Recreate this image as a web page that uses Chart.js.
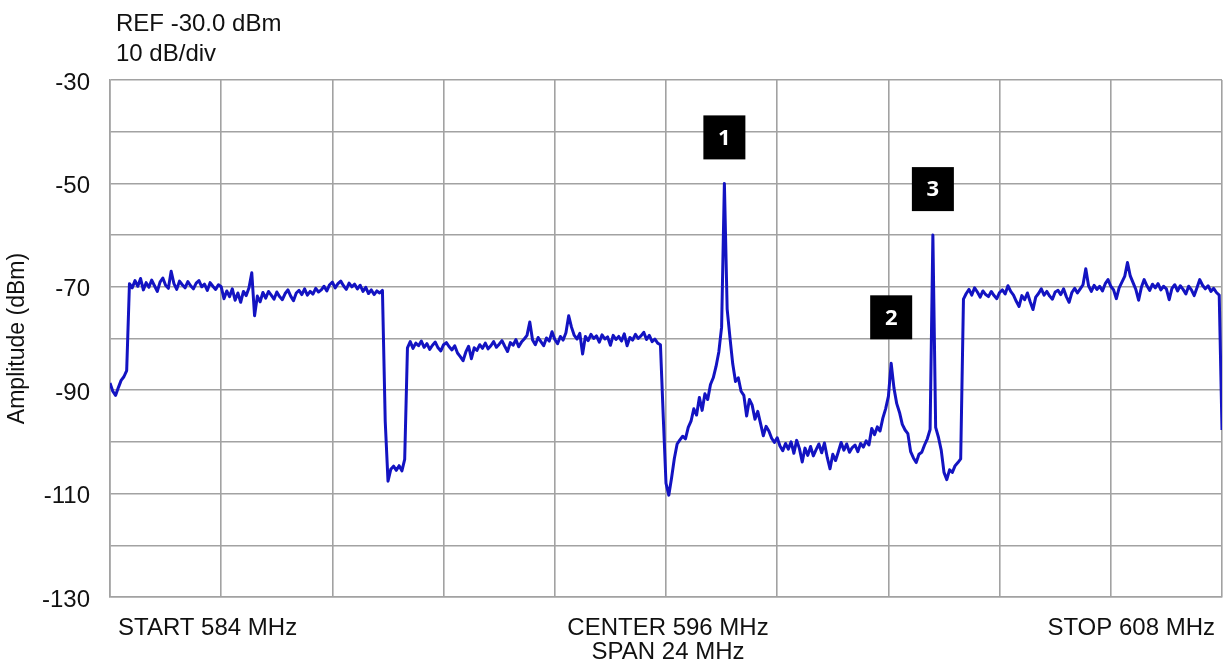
<!DOCTYPE html>
<html lang="en">
<head>
    <meta charset="UTF-8">
    <title>Spectrum 584 - 608 MHz</title>
    <script src="https://cdn.jsdelivr.net/npm/chart.js"></script>
    <style>
        html, body {
            margin: 0;
            padding: 0;
            background: #fff;
        }
        #wrap {
            width: 1225px;
            height: 669px;
            position: relative;
        }
    </style>
</head>
<body>
    <div id="wrap">
        <canvas id="spectrum"></canvas>
    </div>

    <script>
        // analyzer settings
        const START_MHZ = 584;
        const STOP_MHZ = 608;
        const REF_DBM = -30;
        const DB_PER_DIV = 10;
        const yTickLabels = [-30, -50, -70, -90, -110, -130];

        // trace, one value per sweep point (dBm)
        const amplitude = [
            -88.6, -90.2, -91.0, -89.5, -88.1, -87.4, -86.2, -69.4, -70.2, -68.8,
            -69.9, -68.4, -70.6, -69.2, -70.1, -68.7, -69.8, -70.9, -69.1, -68.3,
            -69.7, -70.3, -67.0, -69.4, -70.5, -68.9, -69.6, -70.2, -69.0, -69.8,
            -70.4, -69.3, -68.8, -70.0, -69.5, -70.7, -69.2, -69.9, -70.5, -69.6,
            -70.0, -72.3, -70.8, -71.9, -70.4, -72.6, -71.2, -73.0, -70.9, -71.7,
            -70.2, -67.3, -75.6, -71.8, -72.9, -71.1, -72.2, -70.9, -71.6, -72.4,
            -71.0, -71.9, -72.5, -71.3, -70.6, -71.8, -72.7, -71.2, -70.7, -71.5,
            -70.4, -71.6, -70.9, -71.4, -70.3, -71.0, -70.6, -69.9, -70.8, -69.6,
            -69.1, -70.2, -69.4, -68.9, -69.8, -70.5, -69.3, -70.0, -69.5, -70.4,
            -69.7, -70.9, -70.1, -71.3, -70.6, -71.5, -70.8, -71.2, -70.7, -96.0,
            -107.6, -105.3, -104.7, -105.5, -104.6, -105.6, -103.4, -81.8, -80.6, -81.9,
            -80.9, -81.4, -80.5, -81.7, -81.0, -82.1, -81.3, -80.7, -81.8, -82.4,
            -81.2, -80.8, -81.6, -82.2, -81.4, -82.8, -83.5, -84.3, -82.6, -81.5,
            -83.9, -81.8, -82.3, -81.2, -81.9, -80.9, -82.0, -81.4, -80.6, -81.7,
            -81.1, -80.4, -81.5, -82.5, -80.8, -81.3, -80.2, -81.6, -80.7, -80.1,
            -79.4, -76.8, -80.3, -81.2, -79.8, -80.6, -81.4, -79.9, -80.5, -78.7,
            -80.2, -81.0, -79.6, -80.3, -78.9, -75.6, -77.8, -79.4, -80.1, -79.0,
            -83.0, -79.6, -80.4, -79.2, -80.0, -79.5, -80.7, -79.3, -80.1, -79.7,
            -81.3, -79.4, -80.2, -79.6, -80.5, -79.1, -81.4, -79.8, -80.3, -79.2,
            -80.0, -79.5, -78.8, -80.2, -79.4, -80.6, -80.1, -80.9, -81.2, -95.0,
            -108.0, -110.3, -107.0, -103.2, -100.4, -99.6, -98.9, -99.4, -97.2, -96.0,
            -93.6, -94.8, -91.4, -93.9, -90.7, -91.8, -88.9, -87.6, -85.4, -82.6,
            -77.8, -50.0, -74.3, -79.8, -84.9, -88.3, -87.6, -90.2, -91.0, -95.0,
            -91.8, -92.9, -95.6, -94.1, -96.4, -98.8, -97.0, -97.9, -99.3, -100.1,
            -99.2, -100.8, -101.7, -100.3, -101.4, -100.0, -102.2, -99.7, -101.3, -103.9,
            -101.2, -102.6, -100.9, -102.7, -101.5, -100.4, -102.1, -100.2, -103.0, -105.2,
            -102.4, -103.6, -101.9, -100.1, -101.6, -100.4, -102.0, -101.1, -100.6, -101.9,
            -100.3, -101.0, -99.8, -100.6, -97.4, -98.6, -97.1, -97.9, -95.4, -93.6,
            -91.2, -84.8, -89.6, -92.6, -94.3, -96.6, -97.7, -98.4, -101.9, -103.1,
            -104.0, -102.4, -102.0, -100.6, -99.4, -97.6, -60.0, -97.2, -99.1, -101.6,
            -105.9, -107.3, -105.4, -105.9, -104.6, -104.0, -103.3, -72.4, -71.3, -70.5,
            -71.6, -70.2, -71.0, -72.0, -70.8, -71.5, -71.9, -70.9, -71.7, -72.3,
            -71.1, -70.6, -71.4, -69.8, -70.9, -71.6, -72.8, -73.8, -71.7, -72.5,
            -71.2, -72.9, -74.4, -72.0, -71.3, -70.4, -71.6, -70.9, -71.8, -72.4,
            -71.0, -70.7, -71.5, -70.4, -71.9, -73.0, -71.1, -70.3, -71.2, -70.4,
            -69.6, -66.5, -69.8, -70.9, -69.7, -70.5, -69.9, -70.8, -69.4, -68.6,
            -69.9, -70.6, -72.3, -70.2, -69.1, -68.0, -65.3, -67.9, -69.2, -70.5,
            -72.6, -70.1, -68.6, -69.8, -70.7, -69.5, -70.2, -69.4, -70.6, -69.9,
            -70.4, -72.5, -70.3, -69.6, -70.8, -69.8, -70.5, -71.4, -69.9, -70.6,
            -71.7, -70.2, -68.6, -69.7, -70.4, -69.8, -70.9, -70.3, -71.1, -71.6,
            -97.7
        ];

        // numbered markers sit on these sweep points
        const markerLabels = ['1', '2', '3'];
        const markerPoints = [221, 281, 296];

        // evenly spaced sweep points between start and stop
        const step = (STOP_MHZ - START_MHZ) / (amplitude.length - 1);
        const points = amplitude.map((v, i) => ({ x: START_MHZ + i * step, y: v }));

        const textFont = "'Liberation Sans', Arial, sans-serif";
        const gridColor = '#a2a2a2';

        const analyzerText = {
            id: 'analyzerText',
            afterDraw(chart) {
                const ctx = chart.ctx;
                const area = chart.chartArea;
                const xs = chart.scales.x;
                const ys = chart.scales.y;
                ctx.save();

                ctx.fillStyle = '#111';
                ctx.font = '24px ' + textFont;
                ctx.textBaseline = 'alphabetic';
                ctx.textAlign = 'left';
                ctx.fillText('REF ' + REF_DBM.toFixed(1) + ' dBm', area.left + 6, 31);
                ctx.fillText(DB_PER_DIV + ' dB/div', area.left + 6, 61);

                const yb = area.bottom + 38;
                ctx.fillText('START ' + START_MHZ + ' MHz', area.left + 8, yb);
                ctx.textAlign = 'center';
                const mid = (area.left + area.right) / 2 + 2;
                ctx.fillText('CENTER ' + (START_MHZ + STOP_MHZ) / 2 + ' MHz', mid, yb);
                ctx.fillText('SPAN ' + (STOP_MHZ - START_MHZ) + ' MHz', mid, yb + 24);
                ctx.textAlign = 'right';
                ctx.fillText('STOP ' + STOP_MHZ + ' MHz', area.right - 7, yb);

                // marker boxes
                ctx.font = "bold 22px 'Open Sans', 'DejaVu Sans', sans-serif";
                ctx.textAlign = 'center';
                ctx.textBaseline = 'middle';
                markerPoints.forEach((idx, k) => {
                    const px = xs.getPixelForValue(points[idx].x);
                    const py = ys.getPixelForValue(points[idx].y);
                    const w = 42, h = 44;
                    const top = py - 24 - h;
                    ctx.fillStyle = '#000';
                    ctx.fillRect(px - w / 2, top, w, h);
                    ctx.fillStyle = '#fff';
                    ctx.fillText(markerLabels[k], px, top + h / 2 + 1);
                });
                ctx.restore();
            }
        };

        const ctx = document.getElementById('spectrum').getContext('2d');
        new Chart(ctx, {
            type: 'line',
            data: {
                datasets: [{
                    data: points,
                    borderColor: '#1313c2',
                    borderWidth: 3,
                    borderJoinStyle: 'round',
                    pointRadius: 0,
                    tension: 0,
                    fill: false
                }]
            },
            options: {
                responsive: true,
                maintainAspectRatio: false,
                animation: false,
                devicePixelRatio: 1,
                layout: { padding: { top: 80, right: 3, bottom: 72, left: 0 } },
                plugins: {
                    legend: { display: false },
                    tooltip: { enabled: false }
                },
                scales: {
                    x: {
                        type: 'linear',
                        min: START_MHZ,
                        max: STOP_MHZ,
                        ticks: { display: false, count: 11 },
                        grid: { color: gridColor, lineWidth: 1.6, drawTicks: false },
                        border: { color: gridColor, width: 1.6 },
                        afterFit(scale) { scale.height = 0; }
                    },
                    y: {
                        min: REF_DBM - 10 * DB_PER_DIV,
                        max: REF_DBM,
                        ticks: {
                            stepSize: DB_PER_DIV,
                            padding: 20,
                            labelOffset: 3,
                            color: '#111',
                            font: { family: textFont, size: 24 },
                            callback: v => yTickLabels.includes(v) ? v : ''
                        },
                        grid: { color: gridColor, lineWidth: 1.6, drawTicks: false },
                        border: { color: gridColor, width: 1.6 },
                        title: {
                            display: true,
                            text: 'Amplitude (dBm)',
                            color: '#111',
                            font: { family: textFont, size: 23 },
                            padding: { top: 4, bottom: 0 }
                        },
                        afterFit(scale) { scale.width = 110; }
                    }
                }
            },
            plugins: [analyzerText]
        });
    </script>
</body>
</html>
